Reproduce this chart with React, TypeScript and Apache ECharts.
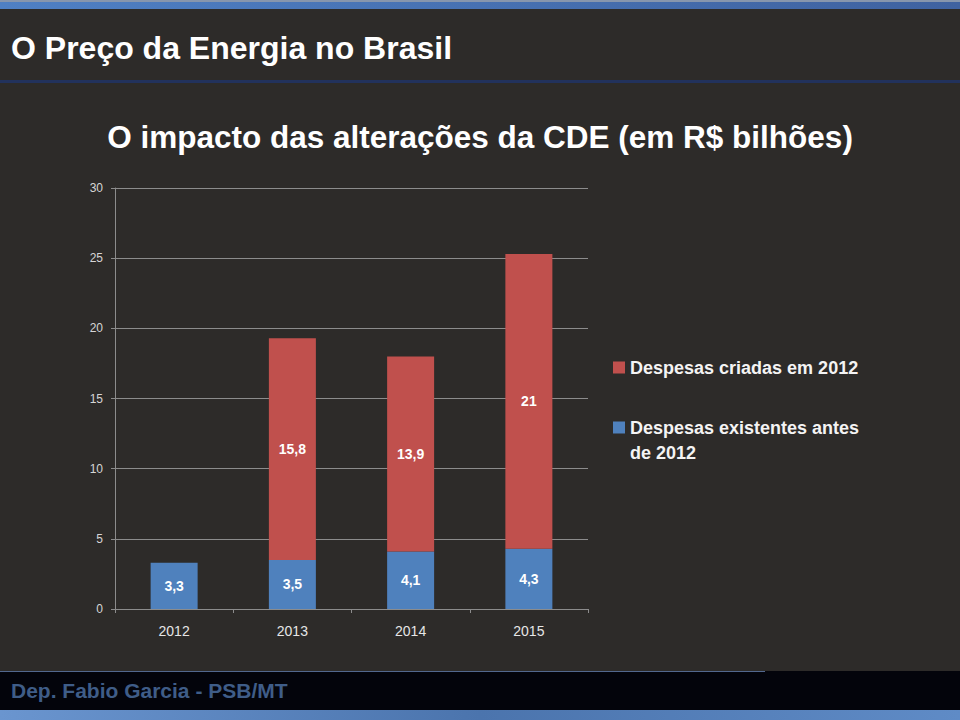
import { useEffect, useRef } from 'react';
import * as echarts from 'echarts';

const years = ['2012', '2013', '2014', '2015'];
const existingBefore2012 = [3.3, 3.5, 4.1, 4.3];
const createdIn2012: (number | null)[] = [null, 15.8, 13.9, 21];
const seriesNames = ['Despesas criadas em 2012', 'Despesas existentes antes de 2012'];
const legendLabels: Record<string, string> = {
  'Despesas criadas em 2012': 'Despesas criadas em 2012',
  'Despesas existentes antes de 2012': ' \nDespesas existentes antes\nde 2012',
};
const mainTitle = 'O Preço da Energia no Brasil';
const subTitle = 'O impacto das alterações da CDE (em R$ bilhões)';
const footerText = 'Dep. Fabio Garcia - PSB/MT';
const yMin = 0;
const yMax = 30;
const yStep = 5;

const FONT = "'Liberation Sans', Arial, Helvetica, sans-serif";
const fmt = (v: number) => String(v).replace('.', ',');

export default function App() {
  const ref = useRef<HTMLDivElement>(null);
  useEffect(() => {
    if (!ref.current) return;
    const chart = echarts.init(ref.current, undefined, { renderer: 'svg' });
    chart.setOption({
      animation: false,
      backgroundColor: '#2d2b29',
      textStyle: { fontFamily: FONT },
      title: [
        {
          text: mainTitle,
          left: 11,
          top: 32,
          padding: 0,
          textStyle: { color: '#ffffff', fontSize: 32, fontWeight: 'bold', fontFamily: FONT },
        },
        {
          text: subTitle,
          left: 'center',
          top: 121,
          padding: 0,
          textStyle: { color: '#ffffff', fontSize: 31.5, fontWeight: 'bold', fontFamily: FONT },
        },
      ],
      graphic: [
        {
          type: 'rect',
          shape: { x: 0, y: 0, width: 960, height: 2 },
          style: { fill: '#8796ad' },
          silent: true,
          z: -10,
        },
        {
          type: 'rect',
          shape: { x: 0, y: 2, width: 960, height: 7 },
          style: {
            fill: new echarts.graphic.LinearGradient(0, 0, 1, 0, [
              { offset: 0, color: '#4f80c4' },
              { offset: 1, color: '#3f62a0' },
            ]),
          },
          silent: true,
          z: -10,
        },
        {
          type: 'rect',
          shape: { x: 0, y: 80, width: 960, height: 3 },
          style: { fill: '#22325c' },
          silent: true,
          z: -10,
        },
        {
          type: 'rect',
          shape: { x: 0, y: 671, width: 960, height: 49 },
          style: { fill: '#03040b' },
          silent: true,
          z: -10,
        },
        {
          type: 'rect',
          shape: { x: 0, y: 671, width: 765, height: 1 },
          style: { fill: '#52688e' },
          silent: true,
          z: -9,
        },
        {
          type: 'rect',
          shape: { x: 0, y: 710, width: 960, height: 10 },
          style: {
            fill: new echarts.graphic.LinearGradient(0, 0, 1, 0, [
              { offset: 0, color: '#6a95cf' },
              { offset: 0.5, color: '#4b74ad' },
              { offset: 1, color: '#5f8bc6' },
            ]),
          },
          silent: true,
          z: -9,
        },
        {
          type: 'text',
          left: 11,
          top: 680,
          style: {
            text: footerText,
            fill: '#3f5d88',
            font: `bold 21px ${FONT}`,
          },
          silent: true,
        },
      ],
      legend: {
        data: seriesNames,
        orient: 'vertical',
        left: 613,
        top: 355,
        padding: 0,
        itemGap: 10,
        itemWidth: 12,
        itemHeight: 12,
        icon: 'rect',
        selectedMode: false,
        formatter: (name: string) => legendLabels[name] ?? name,
        textStyle: {
          color: '#f4f4f4',
          fontSize: 18,
          fontWeight: 'bold',
          lineHeight: 25,
          fontFamily: FONT,
        },
      },
      grid: {
        left: 115,
        right: 372,
        top: 188,
        bottom: 111,
        containLabel: false,
      },
      xAxis: {
        type: 'category',
        data: years,
        axisLine: { lineStyle: { color: '#8c8c8c', width: 1 } },
        axisTick: { show: true, length: 4, lineStyle: { color: '#8c8c8c' } },
        axisLabel: { color: '#e6e6e6', fontSize: 14, margin: 15, fontFamily: FONT },
        splitLine: { show: false },
      },
      yAxis: {
        type: 'value',
        min: yMin,
        max: yMax,
        interval: yStep,
        axisLine: { show: true, lineStyle: { color: '#8c8c8c', width: 1 } },
        axisTick: { show: true, length: 4, lineStyle: { color: '#8c8c8c' } },
        axisLabel: { color: '#d6d6d6', fontSize: 12, margin: 12, fontFamily: FONT },
        splitLine: { show: true, lineStyle: { color: '#8c8c8c', width: 1 } },
      },
      series: [
        {
          name: seriesNames[1],
          type: 'bar',
          stack: 'total',
          barWidth: 47,
          data: existingBefore2012,
          itemStyle: { color: '#4f81bd' },
          label: {
            show: true,
            position: 'inside',
            color: '#ffffff',
            fontSize: 14,
            fontWeight: 'bold',
            fontFamily: FONT,
            formatter: (p: any) => fmt(p.value),
          },
        },
        {
          name: seriesNames[0],
          type: 'bar',
          stack: 'total',
          barWidth: 47,
          data: createdIn2012,
          itemStyle: { color: '#c0504d' },
          label: {
            show: true,
            position: 'inside',
            color: '#ffffff',
            fontSize: 14,
            fontWeight: 'bold',
            fontFamily: FONT,
            formatter: (p: any) => (p.value == null ? '' : fmt(p.value)),
          },
        },
      ],
    });
    return () => chart.dispose();
  }, []);
  return (
    <div
      ref={ref}
      style={{ position: 'fixed', left: 0, top: 0, width: 960, height: 720 }}
    />
  );
}
